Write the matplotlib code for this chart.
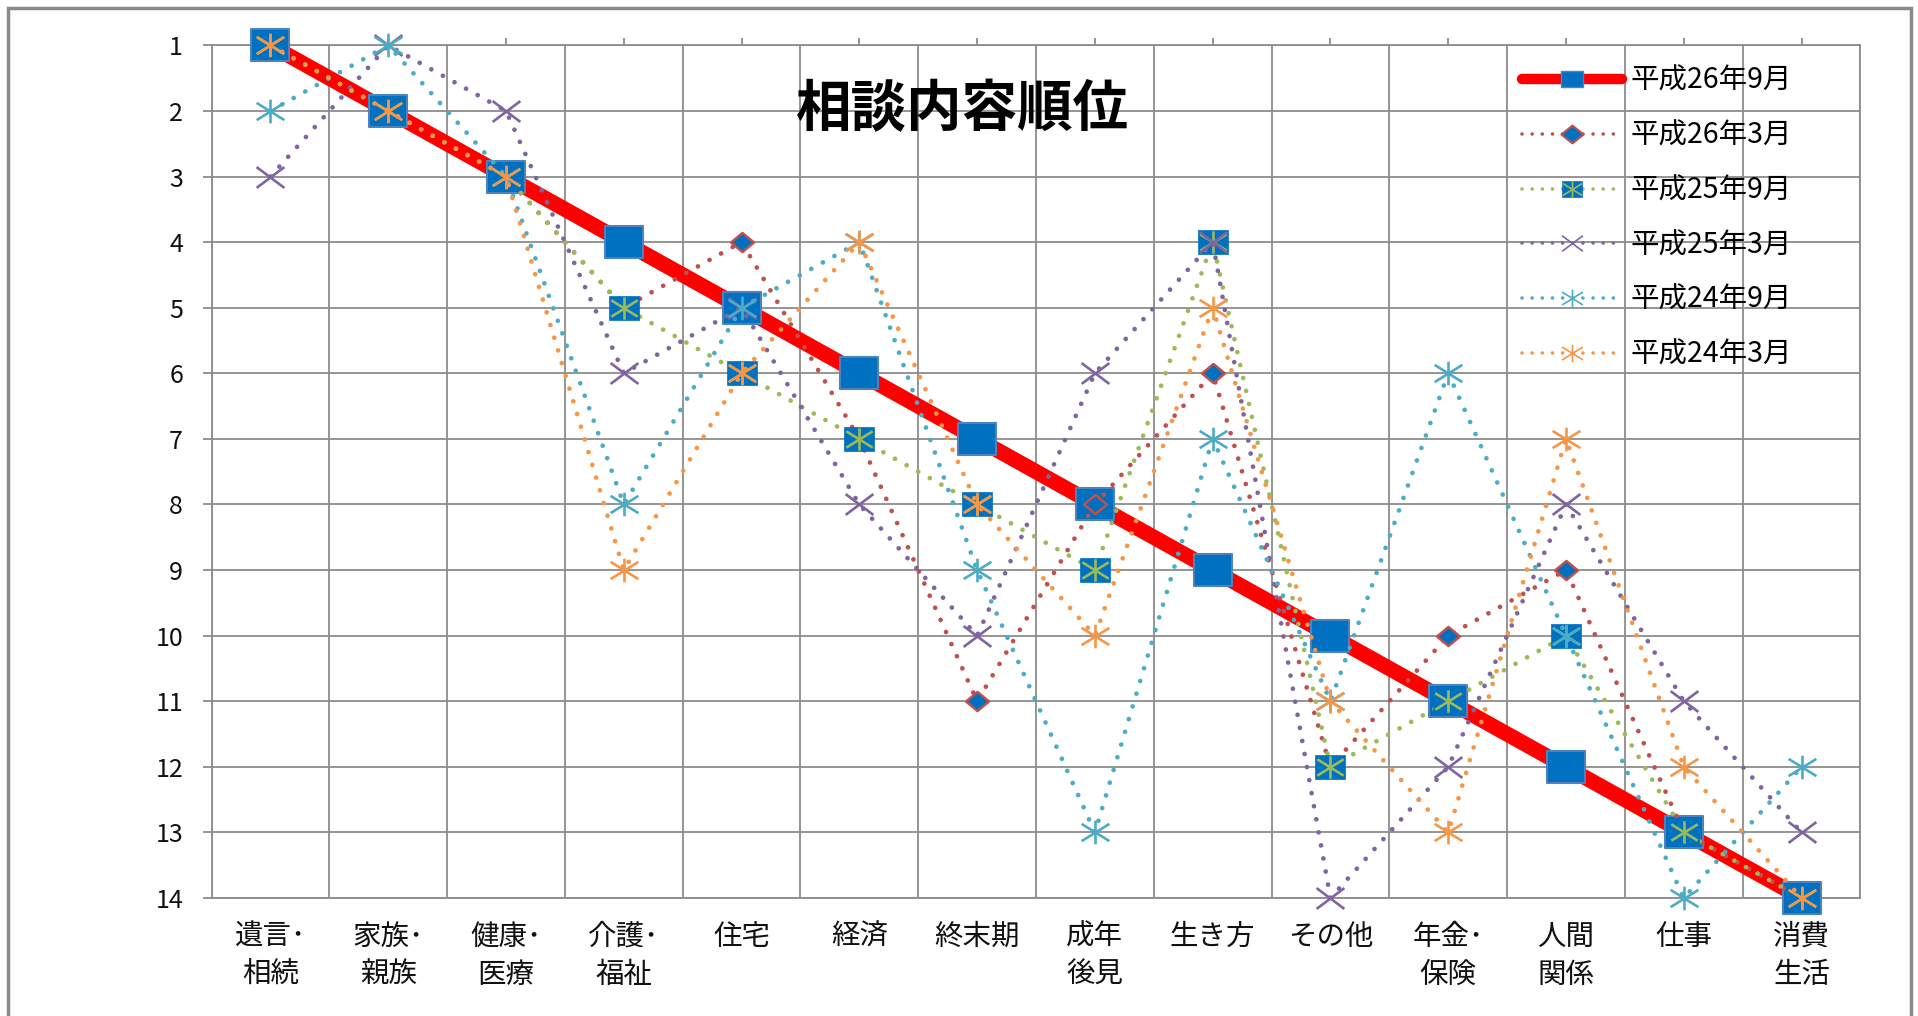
import numpy as np
import matplotlib
matplotlib.use('Agg')
import matplotlib.pyplot as plt
from matplotlib.path import Path
from matplotlib.patches import Rectangle
from matplotlib.lines import Line2D
from matplotlib.legend_handler import HandlerTuple

plt.rcParams['font.family'] = ['Noto Sans CJK JP', 'DejaVu Sans']

# 相談内容（カテゴリ）と各期の順位
categories = ['遺言･\n相続', '家族･\n親族', '健康･\n医療', '介護･\n福祉', '住宅', '経済', '終末期',
              '成年\n後見', '生き方', 'その他', '年金･\n保険', '人間\n関係', '仕事', '消費\n生活']
series_labels = ['平成26年9月', '平成26年3月', '平成25年9月', '平成25年3月', '平成24年9月', '平成24年3月']
h26_9 = [1, 2, 3, 4, 5, 6, 7, 8, 9, 10, 11, 12, 13, 14]
h26_3 = [1, 2, 3, 5, 4, 7, 11, 8, 6, 12, 10, 9, 13, 14]
h25_9 = [1, 2, 3, 5, 6, 7, 8, 9, 4, 12, 11, 10, 13, 14]
h25_3 = [3, 1, 2, 6, 5, 8, 10, 6, 4, 14, 12, 8, 11, 13]
h24_9 = [2, 1, 3, 8, 5, 4, 9, 13, 7, 11, 6, 10, 14, 12]
h24_3 = [1, 2, 3, 9, 6, 4, 8, 10, 5, 11, 13, 7, 12, 14]

BLUE = '#0070C0'
GRID = '#8c8c8c'
DOT = (0, (0.01, 2.8))
LW = 3.4


def rect(h):
    return Path([(-1, -h), (1, -h), (1, h), (-1, h), (-1, -h)], closed=True)


def diamond(h):
    return Path([(0, -h), (1, 0), (0, h), (-1, 0), (0, -h)], closed=True)


def asterisk():
    m, l = Path.MOVETO, Path.LINETO
    return Path([(0, -0.85), (0, 0.85), (-1, -0.62), (1, 0.62), (-1, 0.62), (1, -0.62)],
                [m, l, m, l, m, l])


def cross():
    m, l = Path.MOVETO, Path.LINETO
    return Path([(-1, -0.75), (1, 0.75), (-1, 0.75), (1, -0.75)], [m, l, m, l])


fig = plt.figure(figsize=(19.18, 10.16), dpi=100)
ax = fig.add_axes([0.1103, 0.1161, 0.8597, 0.8393])
x = np.arange(len(categories))

common = dict(clip_on=False)
ax.plot(x, h26_9, color='#FF0000', lw=11, solid_capstyle='round', marker=rect(0.8), ms=28,
        mfc=BLUE, mec='#4F81BD', mew=1.5, zorder=3, **common)
ax.plot(x, h26_3, color='#C0504D', lw=LW, ls=DOT, dash_capstyle='round', marker=diamond(0.83),
        ms=16.5, mfc=BLUE, mec='#C0504D', mew=1.8, zorder=4, **common)
ax.plot(x, h25_9, color='#9BBB59', lw=LW, ls=DOT, dash_capstyle='round', marker=rect(0.79),
        ms=21, mfc=BLUE, mec=BLUE, mew=0.5, zorder=5, **common)
ax.plot(x, h25_9, ls='none', marker=asterisk(), ms=19, mfc='none', mec='#9BBB59', mew=1.9,
        zorder=5, **common)
ax.plot(x, h25_3, color='#8064A2', lw=LW, ls=DOT, dash_capstyle='round', marker=cross(),
        ms=20, mfc='none', mec='#8064A2', mew=1.9, zorder=6, **common)
ax.plot(x, h24_9, color='#4BACC6', lw=LW, ls=DOT, dash_capstyle='round', marker=asterisk(),
        ms=20, mfc='none', mec='#4BACC6', mew=1.9, zorder=7, **common)
ax.plot(x, h24_3, color='#F79646', lw=LW, ls=DOT, dash_capstyle='round', marker=asterisk(),
        ms=20, mfc='none', mec='#F79646', mew=1.9, zorder=8, **common)

ax.set_xlim(-0.5, len(categories) - 0.5)
ax.set_ylim(14, 1)
ax.set_yticks(range(1, 15))
ax.set_xticks(x)
ax.set_xticklabels(categories, linespacing=1.35)
ax.set_xticks(np.arange(-0.5, len(categories)), minor=True)
ax.tick_params(axis='x', which='major', top=True, bottom=False, labeltop=False, labelbottom=True,
               length=5, width=1.3, color=GRID, pad=12, labelsize=20.5, labelcolor='#111111')
ax.tick_params(axis='x', which='minor', length=0)
ax.tick_params(axis='y', length=6.5, width=1.3, color=GRID, pad=14, labelsize=18, labelcolor='#111111')
ax.grid(True, axis='x', which='minor', color=GRID, lw=1.3)
ax.grid(True, axis='y', which='major', color=GRID, lw=1.3)
ax.set_axisbelow(True)
for s in ax.spines.values():
    s.set_color(GRID)
    s.set_linewidth(1.3)

# 凡例（マーカーは本体より小さめ）
h1 = Line2D([], [], color='#FF0000', lw=7.5, solid_capstyle='round', marker=rect(0.75), ms=16,
            mfc=BLUE, mec='#4F81BD', mew=1)
h2 = Line2D([], [], color='#C0504D', lw=2.6, ls=DOT, dash_capstyle='round', marker=diamond(0.8),
            ms=16, mfc=BLUE, mec='#C0504D', mew=1.5)
h3a = Line2D([], [], color='#9BBB59', lw=2.6, ls=DOT, dash_capstyle='round', marker=rect(0.75),
             ms=15, mfc=BLUE, mec=BLUE, mew=0.5)
h3b = Line2D([], [], ls='none', marker=asterisk(), ms=14, mfc='none', mec='#9BBB59', mew=1.2)
h4 = Line2D([], [], color='#8064A2', lw=2.6, ls=DOT, dash_capstyle='round', marker=cross(),
            ms=15, mfc='none', mec='#8064A2', mew=1.2)
h5 = Line2D([], [], color='#4BACC6', lw=2.6, ls=DOT, dash_capstyle='round', marker=asterisk(),
            ms=15, mfc='none', mec='#4BACC6', mew=1.2)
h6 = Line2D([], [], color='#F79646', lw=2.6, ls=DOT, dash_capstyle='round', marker=asterisk(),
            ms=15, mfc='none', mec='#F79646', mew=1.2)
ax.legend([h1, h2, (h3a, h3b), h4, h5, h6], series_labels, loc='upper left',
          bbox_to_anchor=(1522 / 1918, 1 - 66 / 1016), bbox_transform=fig.transFigure,
          frameon=False, fontsize=20.5, handlelength=3.5, handletextpad=0.3, labelspacing=0.87,
          borderpad=0, borderaxespad=0, numpoints=1, handler_map={tuple: HandlerTuple(ndivide=1)})

fig.text(0.502, 0.892, '相談内容順位', ha='center', va='center', fontsize=40, fontweight='bold')

fig.add_artist(Rectangle((8 / 1918, -0.02), 1903 / 1918, 1.02 - 8 / 1016, transform=fig.transFigure,
                         fill=False, ec='#8a8a8a', lw=2.5))

fig.savefig('out.png', dpi=100)
